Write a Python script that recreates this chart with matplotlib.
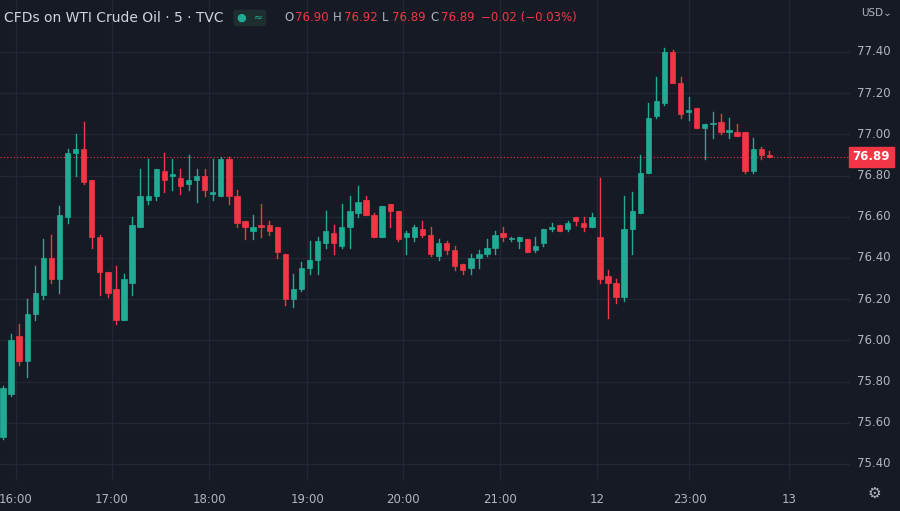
import matplotlib
matplotlib.use('Agg')
import matplotlib.pyplot as plt
from matplotlib.patches import Rectangle

# OHLC, left to right
opens = [75.53, 75.74, 76.02, 75.90, 76.13, 76.22, 76.40, 76.30, 76.60, 76.91,
         76.93, 76.78, 76.50, 76.33, 76.25, 76.10, 76.28, 76.55, 76.68, 76.70,
         76.82, 76.80, 76.79, 76.76, 76.78, 76.80, 76.71, 76.70, 76.88, 76.70,
         76.58, 76.53, 76.56, 76.56, 76.55, 76.42, 76.20, 76.25, 76.35, 76.39,
         76.47, 76.52, 76.46, 76.55, 76.62, 76.68, 76.61, 76.50, 76.66, 76.63,
         76.50, 76.50, 76.54, 76.51, 76.41, 76.47, 76.44, 76.37, 76.35, 76.40,
         76.42, 76.45, 76.52, 76.49, 76.48, 76.49, 76.44, 76.47, 76.54, 76.56,
         76.54, 76.60, 76.57, 76.55, 76.50, 76.31, 76.28, 76.21, 76.54, 76.62,
         76.81, 77.09, 77.15, 77.40, 77.25, 77.11, 77.13, 77.03, 77.05, 77.06,
         77.01, 77.01, 77.01, 76.82, 76.93, 76.90]
highs = [75.78, 76.03, 76.08, 76.20, 76.36, 76.49, 76.51, 76.65, 76.93, 77.00,
         77.06, 76.78, 76.51, 76.33, 76.36, 76.32, 76.60, 76.83, 76.88, 76.83,
         76.91, 76.88, 76.83, 76.90, 76.83, 76.83, 76.88, 76.89, 76.89, 76.73,
         76.58, 76.61, 76.66, 76.58, 76.55, 76.42, 76.32, 76.38, 76.48, 76.50,
         76.63, 76.56, 76.66, 76.70, 76.75, 76.70, 76.62, 76.65, 76.66, 76.63,
         76.53, 76.56, 76.58, 76.55, 76.49, 76.48, 76.46, 76.37, 76.42, 76.44,
         76.49, 76.53, 76.55, 76.50, 76.50, 76.49, 76.50, 76.54, 76.57, 76.56,
         76.58, 76.60, 76.60, 76.62, 76.79, 76.34, 76.30, 76.70, 76.72, 76.90,
         77.15, 77.28, 77.42, 77.41, 77.28, 77.18, 77.13, 77.05, 77.11, 77.10,
         77.08, 77.05, 77.01, 76.98, 76.94, 76.92]
lows = [75.52, 75.73, 75.88, 75.82, 76.10, 76.20, 76.28, 76.23, 76.57, 76.80,
        76.76, 76.45, 76.22, 76.21, 76.08, 76.10, 76.22, 76.55, 76.66, 76.68,
        76.72, 76.73, 76.71, 76.73, 76.67, 76.70, 76.68, 76.70, 76.66, 76.55,
        76.49, 76.49, 76.50, 76.51, 76.40, 76.17, 76.16, 76.24, 76.32, 76.32,
        76.45, 76.42, 76.45, 76.45, 76.60, 76.61, 76.50, 76.50, 76.55, 76.48,
        76.42, 76.48, 76.50, 76.41, 76.39, 76.42, 76.34, 76.32, 76.32, 76.35,
        76.41, 76.42, 76.48, 76.48, 76.45, 76.43, 76.43, 76.46, 76.53, 76.53,
        76.53, 76.56, 76.53, 76.55, 76.28, 76.11, 76.18, 76.19, 76.42, 76.62,
        76.81, 77.08, 77.14, 77.25, 77.08, 77.07, 77.03, 76.88, 76.98, 77.00,
        76.98, 76.99, 76.81, 76.81, 76.88, 76.89]
closes = [75.77, 76.00, 75.90, 76.13, 76.23, 76.40, 76.30, 76.61, 76.91, 76.93,
          76.77, 76.50, 76.33, 76.23, 76.10, 76.30, 76.56, 76.70, 76.70, 76.83,
          76.78, 76.80, 76.75, 76.78, 76.80, 76.73, 76.72, 76.88, 76.70, 76.57,
          76.55, 76.55, 76.55, 76.53, 76.43, 76.20, 76.25, 76.35, 76.39, 76.48,
          76.53, 76.47, 76.55, 76.63, 76.67, 76.61, 76.50, 76.65, 76.63, 76.49,
          76.52, 76.55, 76.51, 76.42, 76.47, 76.44, 76.36, 76.34, 76.40, 76.42,
          76.45, 76.51, 76.50, 76.49, 76.50, 76.43, 76.46, 76.54, 76.55, 76.53,
          76.57, 76.58, 76.55, 76.60, 76.30, 76.28, 76.21, 76.54, 76.63, 76.81,
          77.08, 77.16, 77.40, 77.25, 77.10, 77.12, 77.03, 77.05, 77.05, 77.01,
          77.02, 76.99, 76.82, 76.93, 76.90, 76.89]

time_labels = ['16:00', '17:00', '18:00', '19:00', '20:00', '21:00', '12', '23:00', '13']
time_pos = [1.6, 13.5, 25.6, 37.7, 49.6, 61.6, 73.6, 85.1, 97.5]
price_ticks = [75.40, 75.60, 75.80, 76.00, 76.20, 76.40, 76.60, 76.80,
               77.00, 77.20, 77.40]
last_price = 76.89

BG = '#161a25'
GRID = '#232733'
UP = '#22ab94'
DOWN = '#f23645'
TXT = '#b2b5be'

fig = plt.figure(figsize=(9, 5.11), dpi=100, facecolor=BG)
ax = fig.add_axes([0, 30 / 511, 850 / 900, 481 / 511])
ax.set_facecolor(BG)

for i, (o, h, l, c) in enumerate(zip(opens, highs, lows, closes)):
    col = UP if c >= o else DOWN
    ax.plot([i, i], [l, h], color=col, lw=1, zorder=3)
    ax.add_patch(Rectangle((i - 0.33, min(o, c)), 0.66, max(abs(c - o), 0.006),
                           facecolor=col, edgecolor=col, lw=0.5, zorder=4))

ax.set_xlim(-0.37, 105)
ax.set_ylim(75.317, 77.652)
ax.set_yticks(price_ticks)
ax.set_xticks(time_pos)
ax.grid(True, color=GRID, lw=1)
ax.tick_params(length=0, labelleft=False, labelbottom=False)
for s in ax.spines.values():
    s.set_visible(False)

ax.axhline(last_price, color=DOWN, lw=0.8, ls=(0, (1, 2)), zorder=2)

for p in price_ticks:
    ax.text(1.008, p, f'{p:.2f}', transform=ax.get_yaxis_transform(),
            color=TXT, fontsize=8.5, va='center', ha='left')
ax.text(1.003, last_price, f'{last_price:.2f}', transform=ax.get_yaxis_transform(),
        color='white', fontsize=8.5, va='center', ha='left', fontweight='bold',
        bbox=dict(boxstyle='square,pad=0.3', fc=DOWN, ec=DOWN))
for t, x in zip(time_labels, time_pos):
    ax.text(x, -0.025, t, transform=ax.get_xaxis_transform(), color=TXT,
            fontsize=8.5, ha='center', va='top')

fig.text(0.005, 0.965, 'CFDs on WTI Crude Oil · 5 · TVC', color='#d1d4dc',
         fontsize=10, va='center')
fig.text(0.263, 0.965, '●  ≈', color=UP, fontsize=8, va='center',
         bbox=dict(boxstyle='round,pad=0.3', fc='#1e2d2d', ec='none'))
x0 = 0.316
for lab, val in [('O', '76.90'), ('H', '76.92'), ('L', '76.89'), ('C', '76.89')]:
    fig.text(x0, 0.965, lab, color=TXT, fontsize=8.5, va='center')
    fig.text(x0 + 0.012, 0.965, val, color=DOWN, fontsize=8.5, va='center')
    x0 += 0.054
fig.text(x0 + 0.002, 0.965, '−0.02 (−0.03%)', color=DOWN, fontsize=8.5, va='center')
fig.text(0.957, 0.975, 'USD⌄', color=TXT, fontsize=7.5, va='center')
fig.text(0.972, 0.035, '⚙', color=TXT, fontsize=11, va='center', ha='center')

fig.savefig('out.png', dpi=100, facecolor=BG)
